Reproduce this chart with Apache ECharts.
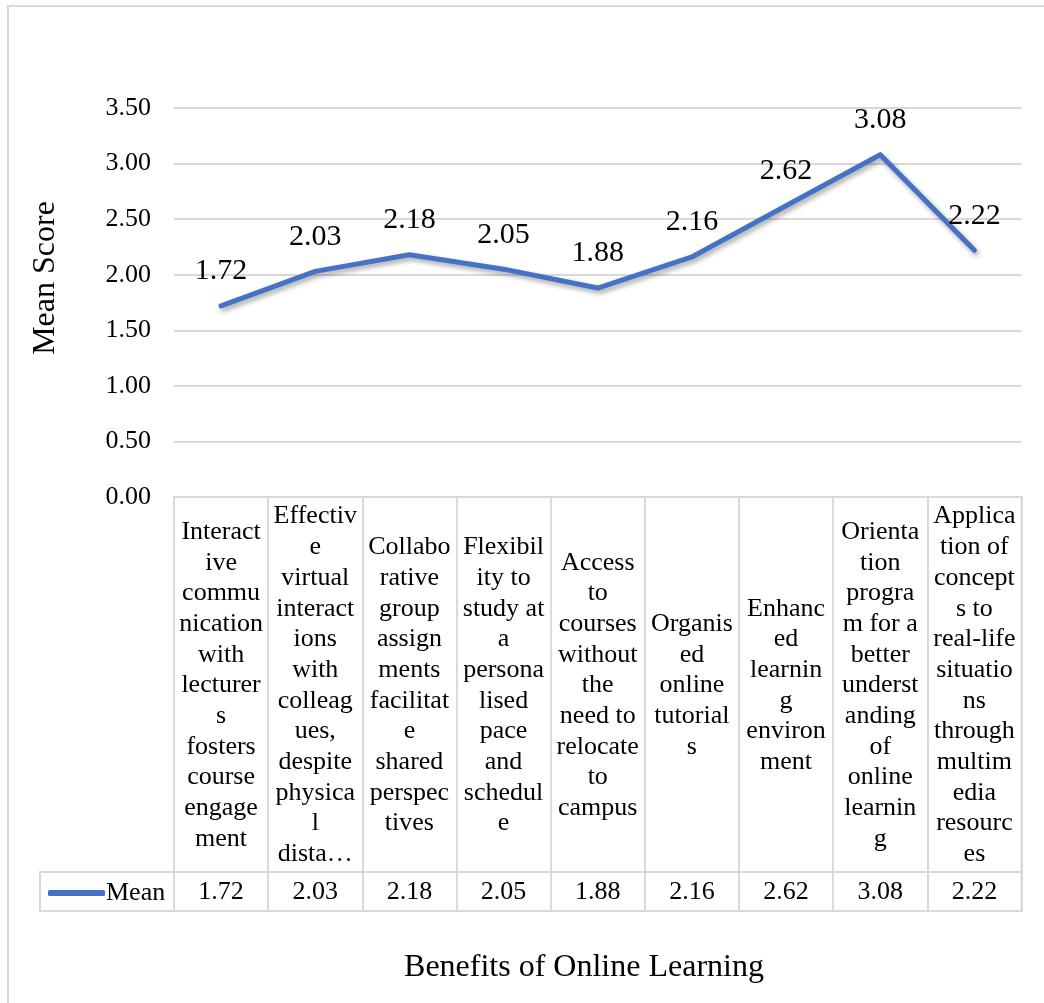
<!DOCTYPE html>
<html>
<head>
<meta charset="utf-8">
<title>Benefits of Online Learning</title>
<script src="https://cdn.jsdelivr.net/npm/echarts@6/dist/echarts.min.js"></script>
<style>
  html, body { margin: 0; padding: 0; background: #fff; }
  #chart { width: 1044px; height: 1003px; }
</style>
</head>
<body>
<div id="chart"></div>
<script>
// Benefit statements, wrapped as they appear in the table header cells
const benefitLines = [
  ['Interact', 'ive', 'commu', 'nication', 'with', 'lecturer', 's', 'fosters', 'course', 'engage', 'ment'],
  ['Effectiv', 'e', 'virtual', 'interact', 'ions', 'with', 'colleag', 'ues,', 'despite', 'physica', 'l', 'dista\u2026'],
  ['Collabo', 'rative', 'group', 'assign', 'ments', 'facilitat', 'e', 'shared', 'perspec', 'tives'],
  ['Flexibil', 'ity to', 'study at', 'a', 'persona', 'lised', 'pace', 'and', 'schedul', 'e'],
  ['Access', 'to', 'courses', 'without', 'the', 'need to', 'relocate', 'to', 'campus'],
  ['Organis', 'ed', 'online', 'tutorial', 's'],
  ['Enhanc', 'ed', 'learnin', 'g', 'environ', 'ment'],
  ['Orienta', 'tion', 'progra', 'm for a', 'better', 'underst', 'anding', 'of', 'online', 'learnin', 'g'],
  ['Applica', 'tion of', 'concept', 's to', 'real-life', 'situatio', 'ns', 'through', 'multim', 'edia', 'resourc', 'es']
];
const categories = benefitLines.map(l => l.join('\n'));

// Mean score for each benefit
const meanScores = [1.72, 2.03, 2.18, 2.05, 1.88, 2.16, 2.62, 3.08, 2.22];
const seriesName = 'Mean';

// Value axis ticks
const yTicks = { min: 0, max: 3.5, interval: 0.5 };

const xTitle = 'Benefits of Online Learning';
const yTitle = 'Mean Score';

const FONT = "'Liberation Serif', 'Times New Roman', serif";
const GRID_LINE = '#d9d9d9';
const LINE_BLUE = '#4472C4';

// Layout (pixels)
const plotLeft = 174, plotRight = 22.5, plotTop = 108, plotBottomY = 497;
const headerH = 375, valueRowH = 39;
const legendCellLeft = 40;

const chart = echarts.init(document.getElementById('chart'), null, { renderer: 'canvas' });

const tableAxis = (gridIndex) => ({
  type: 'category',
  gridIndex,
  data: categories,
  boundaryGap: true,
  axisLine: { show: false },
  axisTick: { show: false },
  axisLabel: { show: false },
  splitLine: { show: true, interval: 0, lineStyle: { color: GRID_LINE, width: 2 } }
});
const hiddenValueAxis = (gridIndex) => ({ type: 'value', gridIndex, show: false });

chart.setOption({
  animation: false,
  backgroundColor: '#fff',
  textStyle: { fontFamily: FONT, color: '#000' },
  graphic: [
    {
      // chart area frame
      type: 'rect',
      shape: { x: 8, y: 6, width: 1100, height: 1100 },
      style: { fill: 'none', stroke: GRID_LINE, lineWidth: 2 },
      silent: true,
      z: -10
    },
    {
      type: 'text',
      x: 46, y: 278,
      rotation: Math.PI / 2,
      style: {
        text: yTitle, fill: '#000', align: 'center', verticalAlign: 'middle',
        font: `32px ${FONT}`
      }
    },
    {
      type: 'text',
      x: 584, y: 968,
      style: {
        text: xTitle, fill: '#000', align: 'center', verticalAlign: 'middle',
        font: `32px ${FONT}`
      }
    }
  ],
  legend: {
    data: [{ name: seriesName, itemStyle: { color: LINE_BLUE } }],
    left: legendCellLeft + 3,
    top: 875,
    icon: 'roundRect',
    itemWidth: 57,
    itemHeight: 6,
    textStyle: { fontFamily: FONT, fontSize: 26, color: '#000', padding: [0, 0, 0, -4] }
  },
  grid: [
    // plot area
    { left: plotLeft, right: plotRight, top: plotTop, height: plotBottomY - plotTop },
    // table header row
    { left: plotLeft, right: plotRight, top: plotBottomY, height: headerH,
      show: true, borderColor: GRID_LINE, borderWidth: 2 },
    // table value row
    { left: plotLeft, right: plotRight, top: plotBottomY + headerH, height: valueRowH,
      show: true, borderColor: GRID_LINE, borderWidth: 2 },
    // legend key cell
    { left: legendCellLeft, width: plotLeft - legendCellLeft, top: plotBottomY + headerH, height: valueRowH,
      show: true, borderColor: GRID_LINE, borderWidth: 2 }
  ],
  xAxis: [
    {
      type: 'category',
      gridIndex: 0,
      data: categories,
      boundaryGap: true,
      axisLine: { show: false },
      axisTick: { show: false },
      axisLabel: {
        interval: 0,
        margin: headerH / 2 + 1,
        verticalAlign: 'middle',
        align: 'center',
        fontFamily: FONT,
        fontSize: 26,
        lineHeight: 30.7,
        color: '#000'
      }
    },
    {
      type: 'category',
      gridIndex: 0,
      position: 'bottom',
      data: meanScores.map(v => v.toFixed(2)),
      boundaryGap: true,
      axisLine: { show: false },
      axisTick: { show: false },
      axisLabel: {
        interval: 0,
        margin: headerH + valueRowH / 2 + 1,
        verticalAlign: 'middle',
        align: 'center',
        fontFamily: FONT,
        fontSize: 26,
        color: '#000'
      }
    },
    tableAxis(1),
    tableAxis(2),
    { type: 'category', gridIndex: 3, data: [''], show: false }
  ],
  yAxis: [
    {
      type: 'value',
      gridIndex: 0,
      min: yTicks.min,
      max: yTicks.max,
      interval: yTicks.interval,
      axisLine: { show: false },
      axisTick: { show: false },
      axisLabel: {
        margin: 23,
        fontFamily: FONT,
        fontSize: 26,
        color: '#000',
        formatter: v => v.toFixed(2)
      },
      splitLine: { lineStyle: { color: GRID_LINE, width: 2 } }
    },
    hiddenValueAxis(1),
    hiddenValueAxis(2),
    hiddenValueAxis(3)
  ],
  series: [{
    name: seriesName,
    type: 'line',
    xAxisIndex: 0,
    yAxisIndex: 0,
    data: meanScores,
    color: LINE_BLUE,
    showSymbol: true,
    symbol: 'circle',
    symbolSize: 1,
    itemStyle: { color: 'rgba(0,0,0,0)' },
    lineStyle: {
      color: LINE_BLUE,
      width: 5,
      cap: 'round',
      join: 'round',
      shadowColor: 'rgba(0,0,0,0.35)',
      shadowBlur: 5,
      shadowOffsetX: 2,
      shadowOffsetY: 3
    },
    label: {
      show: true,
      position: 'top',
      distance: 19,
      fontFamily: FONT,
      fontSize: 30,
      color: '#000',
      formatter: p => p.value.toFixed(2)
    }
  }]
});
</script>
</body>
</html>
